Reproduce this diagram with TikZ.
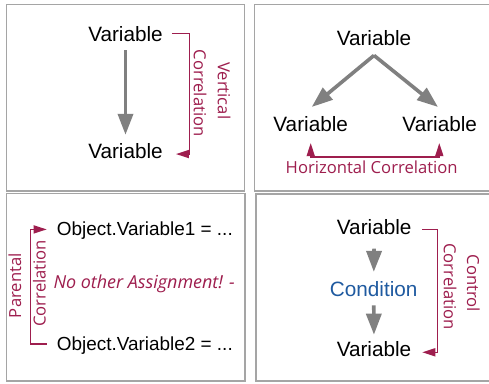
\documentclass[tikz,border=0pt]{standalone}
\usepackage{fontspec}
\setmainfont{Liberation Sans}
\newfontfamily\comic{Open Sans}
\usetikzlibrary{arrows.meta}
\definecolor{corr}{RGB}{158,30,78}
\definecolor{condblue}{RGB}{31,90,160}
\definecolor{arrgray}{RGB}{128,128,128}
\definecolor{panelgray}{RGB}{165,165,165}
\tikzset{
  lbl/.style={inner sep=0pt, anchor=base, font=\fontsize{20.8}{24}\selectfont, text=black},
  obj/.style={inner sep=0pt, anchor=base west, font=\fontsize{19}{22}\selectfont, text=black},
  note/.style={inner sep=0pt, font=\comic\fontsize{16.7}{20}\selectfont, text=corr},
  garrow/.style={draw=arrgray, line width=3.6bp, -{Triangle[length=21bp,width=15bp]}},
  corrline/.style={draw=corr, line width=1.5bp},
  ctip/.tip={Triangle[length=13bp,width=8bp]},
  panel/.style={draw=panelgray, line width=1.5bp}
}
\begin{document}
\begin{tikzpicture}[x=1bp,y=-1bp]
\useasboundingbox (0,0) rectangle (489,383);
\fill[white] (0,0) rectangle (489,383);
% panels
\draw[panel] (6.5,4.5) rectangle (244.5,191);
\draw[panel] (254.5,4.5) rectangle (495,191);
\draw[panel] (6.5,193.5) rectangle (245,381);
\draw[panel] (256,194) rectangle (495,381);

% top-left: vertical correlation
\node[lbl] (tlA) at (125.5,41.7) {Variable};
\node[lbl] (tlB) at (125.5,158) {Variable};
\draw[garrow, shorten <=8.3bp, shorten >=8bp] (tlA.south) -- (tlB.north);
\draw[corrline, -ctip] ([shift={(9,-0.75)}]tlA.east) -| ([shift={(26.7,3.45)}]tlB.east) -- ([shift={(13,3.45)}]tlB.east);
\node[note, rotate=-90] (tlV) at (224,90.8) {Vertical};
\node[note, rotate=-90] (tlC) at (200,93.3) {Correlation};

% top-right: horizontal correlation
\node[lbl] (trA) at (374,45) {Variable};
\node[lbl] (trB) at (310.7,131) {Variable};
\node[lbl] (trC) at (439.7,131) {Variable};
\draw[garrow] ([shift={(0,10)}]trA.south) -- ([shift={(1,-8.8)}]trB.north);
\draw[garrow] ([shift={(0,10)}]trA.south) -- ([shift={(-1.7,-8.8)}]trC.north);
\draw[corrline, ctip-ctip] ([shift={(0,11.7)}]trB.south) -- ([shift={(0,25.7)}]trB.south) -| ([shift={(-0.4,11.7)}]trC.south);
\node[note, anchor=base] (trN) at (371.7,173.3) {Horizontal Correlation};

% bottom-left: parental correlation
\node[obj] (blA) at (56.7,235.7) {Object.Variable1 = ...};
\node[obj] (blB) at (56.7,350) {Object.Variable2 = ...};
\draw[corrline, ctip-] ([shift={(-10,-1.4)}]blA.west) -| ([shift={(-26,-1)}]blB.west) -- ([shift={(-10,-1)}]blB.west);
\node[note, rotate=90] (blP) at (15,285.7) {Parental};
\node[note, rotate=90] (blC) at (39.3,283.3) {Correlation};
\node[note, anchor=base west, font=\comic\itshape\fontsize{18}{21}\selectfont] (blN) at (53.3,288.3) {No other Assignment! -};

% bottom-right: control correlation
\node[lbl] (brA) at (374.2,234.3) {Variable};
\node[lbl, text=condblue] (brC) at (373.7,296) {Condition};
\node[lbl] (brB) at (374,356.7) {Variable};
\draw[garrow, shorten <=14bp, shorten >=8.9bp] (brA.south) -- (brC.north);
\draw[garrow, shorten <=9bp, shorten >=6.8bp] (brC.south) -- (brB.north);
\draw[corrline, -ctip] ([shift={(10.6,2.45)}]brA.east) -| ([shift={(25.8,3)}]brB.east) -- ([shift={(10.8,3)}]brB.east);
\node[note, rotate=-90] (brK) at (473.3,283.3) {Control};
\node[note, rotate=-90] (brL) at (450,286.7) {Correlation};
\end{tikzpicture}
\end{document}
